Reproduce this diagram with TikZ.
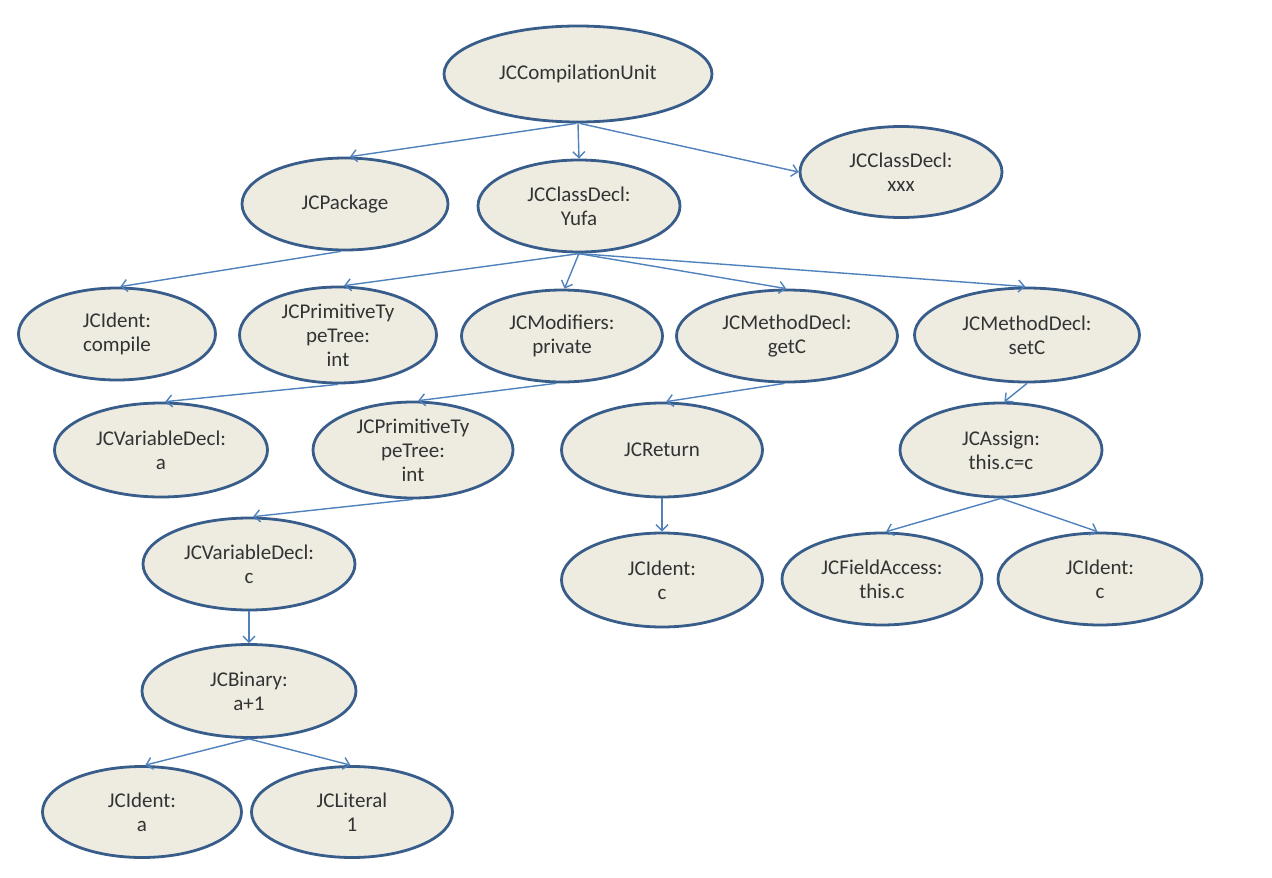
\documentclass[tikz,border=0pt]{standalone}
\usepackage{fontspec}
\setmainfont{Carlito}
\usetikzlibrary{shapes.geometric,arrows.meta}
\definecolor{nodefill}{HTML}{EEECE1}
\definecolor{nodeborder}{HTML}{385D8A}
\definecolor{edgecol}{HTML}{4F81BD}
\definecolor{txt}{HTML}{333333}
\tikzset{
  tnode/.style={ellipse, draw=nodeborder, fill=nodefill, line width=2.8pt,
    inner sep=0pt, align=center, text=txt,
    font=\fontsize{21}{24}\selectfont},
  sz/.style 2 args={minimum width=#1pt, minimum height=#2pt},
  edge/.style={draw=edgecol, line width=1.4pt, -{Straight Barb[length=6pt,width=12pt,line width=1.4pt]}}
}
\begin{document}
\begin{tikzpicture}[x=1pt,y=-1pt]
\useasboundingbox (0,0) rectangle (1272,878);
% nodes
\node[tnode, sz={268}{96}] (cu) at (578,74) {JCCompilationUnit};
\node[tnode, sz={206}{92}] (pkg) at (345,204) {JCPackage};
\node[tnode, sz={202}{92}] (yufa) at (579,206) {JCClassDecl:\\Yufa};
\node[tnode, sz={202}{91}] (xxx) at (901,172) {JCClassDecl:\\xxx};
\node[tnode, sz={197}{92}] (compile) at (117,334) {JCIdent:\\compile};
\node[tnode, sz={197}{96}] (ptt1) at (338,335) {JCPrimitiveTy\\peTree:\\int};
\node[tnode, sz={201}{92}] (mods) at (562,336) {JCModifiers:\\private};
\node[tnode, sz={221}{92}] (getc) at (787,336) {JCMethodDecl:\\getC};
\node[tnode, sz={225}{94}] (setc) at (1027,335) {JCMethodDecl:\\setC};
\node[tnode, sz={213}{94}] (vda) at (161,450) {JCVariableDecl:\\a};
\node[tnode, sz={200}{96}] (ptt2) at (413,450) {JCPrimitiveTy\\peTree:\\int};
\node[tnode, sz={201}{94}] (ret) at (662,450) {JCReturn};
\node[tnode, sz={202}{94}] (assign) at (1001,450) {JCAssign:\\this.c=c};
\node[tnode, sz={212}{92}] (vdc) at (249,564) {JCVariableDecl:\\c};
\node[tnode, sz={201}{94}] (identc) at (662,580) {JCIdent:\\c};
\node[tnode, sz={200}{92}] (field) at (882,579) {JCFieldAccess:\\this.c};
\node[tnode, sz={204}{92}] (identc2) at (1100,579) {JCIdent:\\c};
\node[tnode, sz={214}{93}] (binary) at (249,691) {JCBinary:\\a+1};
\node[tnode, sz={199}{91}] (identa) at (142,812) {JCIdent:\\a};
\node[tnode, sz={201}{91}] (literal) at (352,812) {JCLiteral\\1};
% edges
\draw[edge] (cu.268) -- (pkg.84);
\draw[edge] (cu.south) -- (yufa.north);
\draw[edge] (cu.272) -- (xxx.west);
\draw[edge] (pkg.265) -- (compile.86);
\draw[edge] (yufa.272) -- (ptt1.83);
\draw[edge] (yufa.south) -- (mods.87);
\draw[edge] (yufa.268) -- (getc.91);
\draw[edge] (yufa.266) -- (setc.92);
\draw[edge] (ptt1.south) -- (vda.85);
\draw[edge] (mods.263) -- (ptt2.84);
\draw[edge] (getc.267) -- (ret.85);
\draw[edge] (setc.south) -- (assign.86);
\draw[edge] (ptt2.south) -- (vdc.85);
\draw[edge] (ret.south) -- (identc.north);
\draw[edge] (assign.south) -- (field.85);
\draw[edge] (assign.south) -- (identc2.93);
\draw[edge] (vdc.south) -- (binary.north);
\draw[edge] (binary.south) -- (identa.86);
\draw[edge] (binary.south) -- (literal.92);
\end{tikzpicture}
\end{document}
